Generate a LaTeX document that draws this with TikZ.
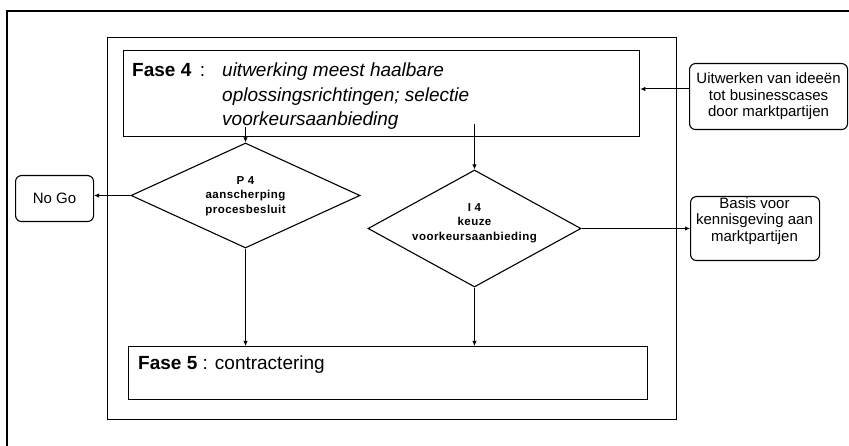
\documentclass[tikz,border=0pt]{standalone}
\usepackage{fontspec}
\setmainfont{Liberation Sans}
\usetikzlibrary{shapes.geometric,arrows.meta}

\begin{document}
\begin{tikzpicture}[x=1pt,y=-1pt,
  box/.style={draw, line width=1.3pt, inner sep=0pt, anchor=north west},
  rbox/.style={draw, line width=1.1pt, rounded corners=6pt, inner sep=0pt, anchor=north west, align=center},
  dia/.style={draw, diamond, line width=1.1pt, inner sep=0pt},
  diatext/.style={font=\bfseries\fontsize{11.5}{14.5}\selectfont\addfontfeature{LetterSpace=4}, align=center, inner sep=0pt},
  conn/.style={line width=1pt, -{Latex[length=5pt,width=4.5pt]}},
]
\useasboundingbox (0,0) rectangle (849,446);
\fill[white] (0,0) rectangle (849,446);

% page border (only its top and left edges fall inside the page)
\draw[line width=1.4pt] (7,446) -- (7,11) -- (849,11);

% phase frame
\node[box, minimum width=569pt, minimum height=382pt] (frame) at (107,37) {};

% Fase 4
\node[box, minimum width=516pt, minimum height=86pt] (fase4) at (123,50) {};
\node[anchor=base west, inner sep=0pt, font=\fontsize{19}{24.5}\selectfont] (f4txt) at (132,77)
  {\begin{tabular}[t]{@{}l@{}l@{}}
     \makebox[90pt][l]{\textbf{Fase 4} \,:} & \textit{uitwerking meest haalbare}\\
      & \textit{oplossingsrichtingen; selectie}\\
      & \textit{voorkeursaanbieding}
   \end{tabular}};

% Fase 5
\node[box, minimum width=519pt, minimum height=53pt] (fase5) at (128,346) {};
\node[anchor=base west, inner sep=0pt, font=\fontsize{19}{24}\selectfont] (f5txt) at (138,370)
  {\textbf{Fase 5} : contractering};

% side boxes
\node[rbox, minimum width=158pt, minimum height=66pt, font=\fontsize{15}{16.5}\selectfont] (uitw) at (689,63)
  {Uitwerken van ideeën\\tot businesscases\\door marktpartijen};
\node[rbox, minimum width=78pt, minimum height=46pt, font=\fontsize{15}{17}\selectfont] (nogo) at (15,175) {No Go};
\node[rbox, minimum width=129pt, minimum height=64pt] (basis) at (690,196) {};
\node[align=center, inner sep=0pt, font=\fontsize{15}{16.5}\selectfont] (basistxt) at (754.5,221)
  {Basis voor\\kennisgeving aan\\marktpartijen};

% decisions
\node[dia, minimum width=229pt, minimum height=105pt] (p4) at (245.5,195.5) {};
\node[diatext] (p4txt) at (245.5,196) {P 4\\aanscherping\\procesbesluit};
\node[dia, minimum width=213pt, minimum height=117pt] (i4) at (474.5,228.5) {};
\node[diatext] (i4txt) at (474.5,223) {I 4\\keuze\\voorkeursaanbieding};

% connector start points inside the Fase 4 box
\coordinate (s1) at (245.5,127);
\coordinate (s2) at (474.5,124);
\coordinate (ya) at (0,89);

% connectors
\draw[conn] (uitw.west |- ya) -- (fase4.east |- ya);
\draw[conn] (s1) -- (p4.north);
\draw[conn] (s2) -- (i4.north);
\draw[conn] (p4.west) -- (nogo.east |- p4.west);
\draw[conn] (i4.east) -- (basis.west |- i4.east);
\draw[conn] (p4.south) -- (fase5.north -| p4.south);
\draw[conn] (i4.south) -- (fase5.north -| i4.south);
\end{tikzpicture}
\end{document}
